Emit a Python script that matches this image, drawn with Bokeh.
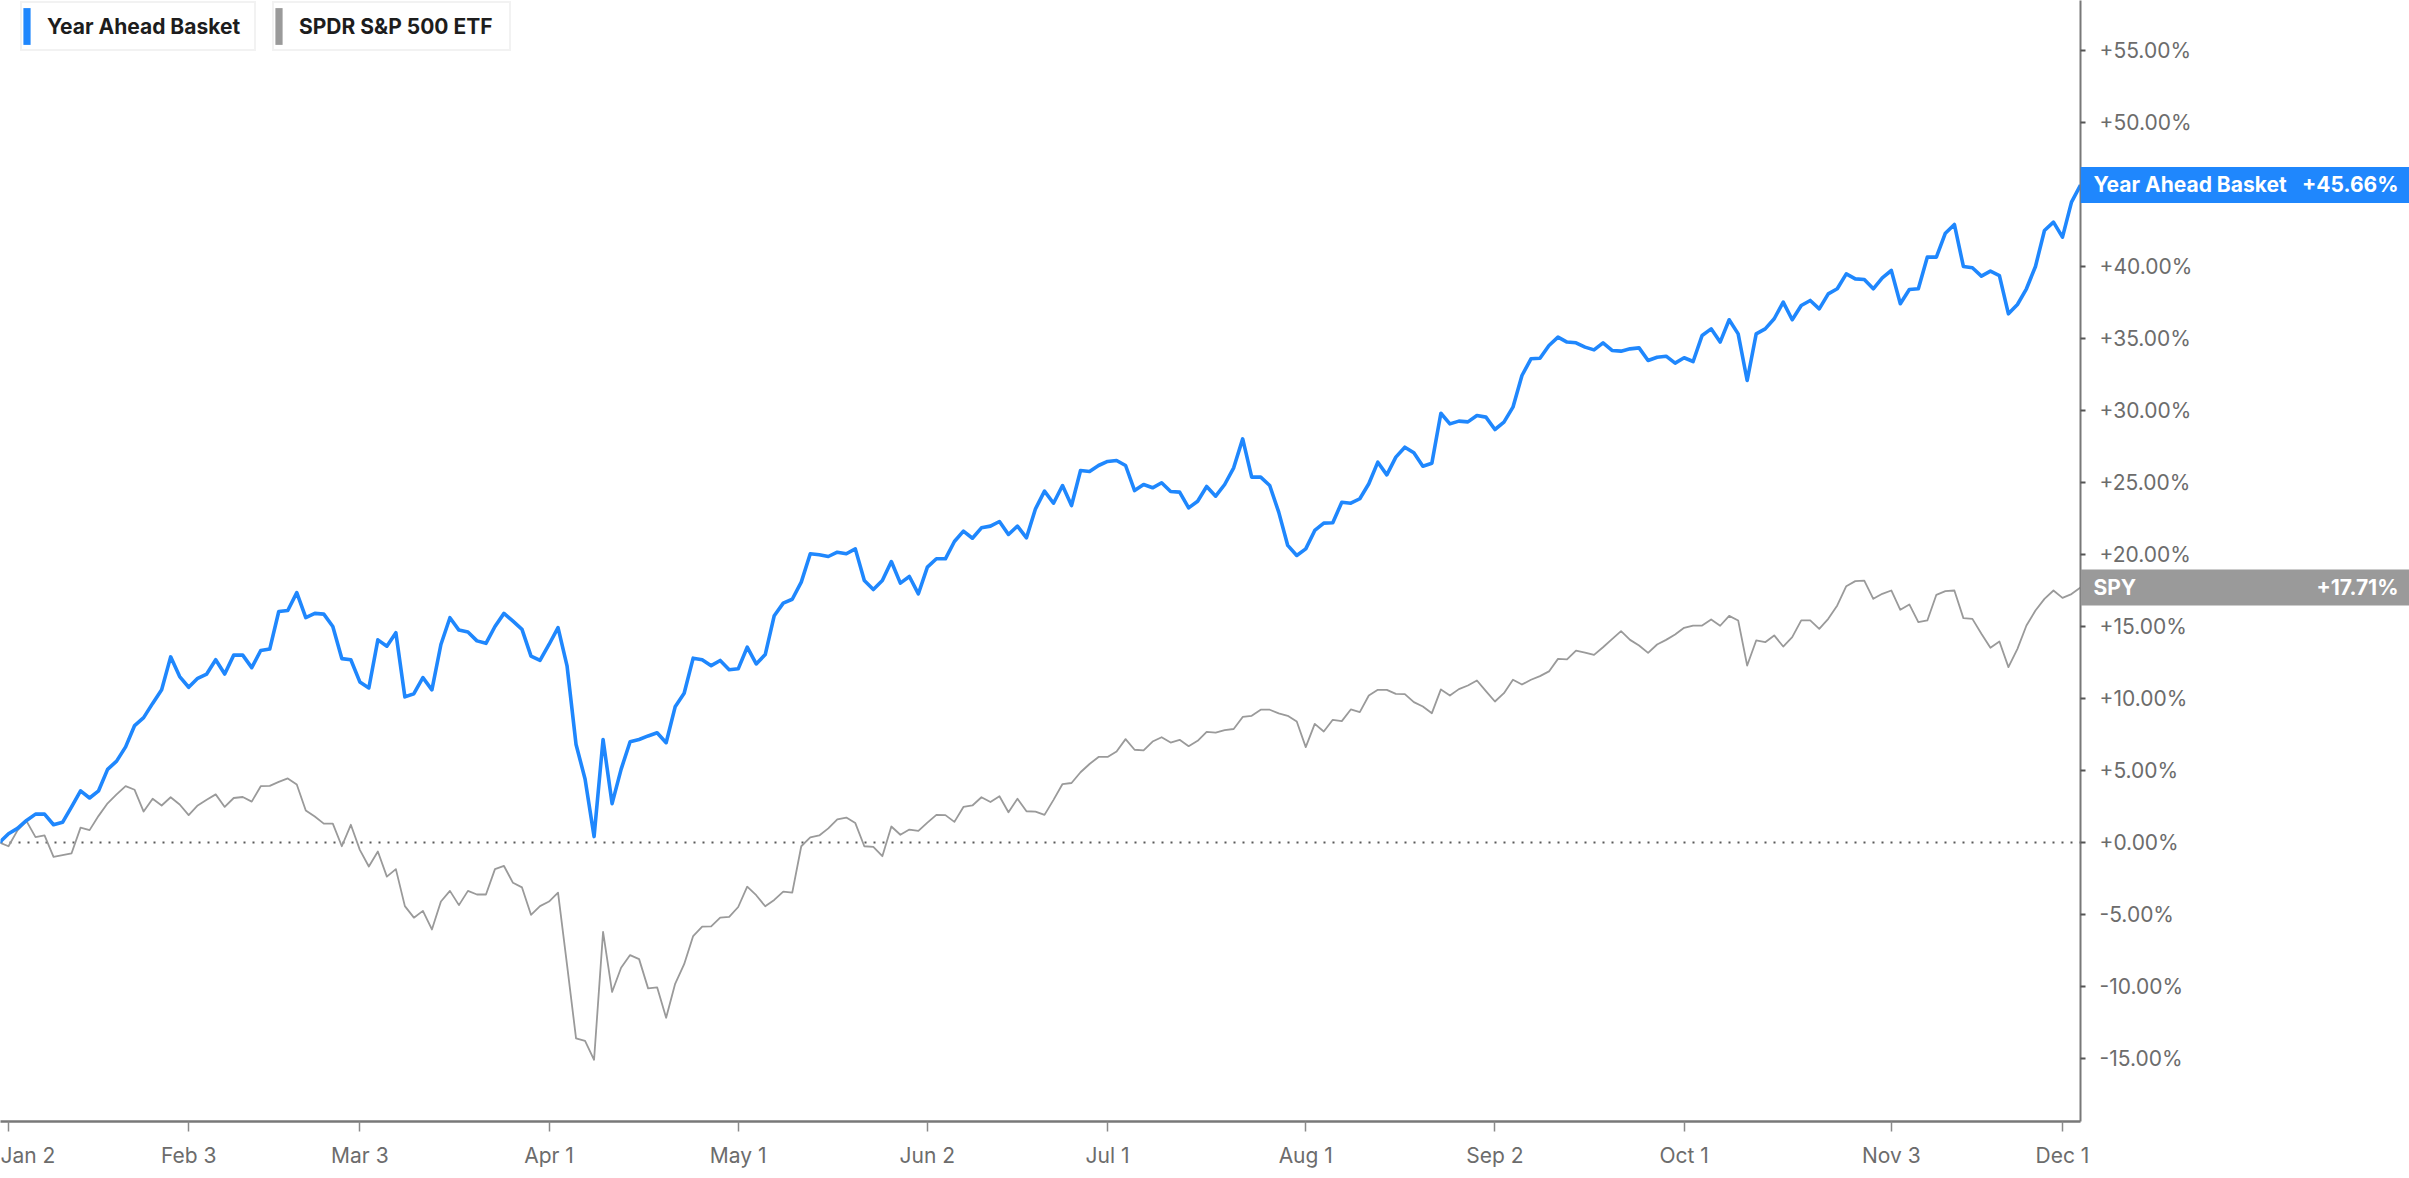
from bokeh.plotting import figure
from bokeh.layouts import row
from bokeh.models import (Range1d, FixedTicker, CustomJSTickFormatter, Span,
                          Legend, LegendItem)
from bokeh.core.properties import value
from bokeh.embed import file_html
from bokeh.resources import INLINE

# ---------------- data ----------------
basket_name = "Year Ahead Basket"
spy_name = "SPDR S&P 500 ETF"
spy_short = "SPY"

# trading-day index (Dec 31 2024 = -1 base, Jan 2 2025 = 0 ... Dec 3 = 230)
day_index = list(range(-1, 231))

basket = [
    0.0,
    0.61, 0.98, 1.53, 1.97, 1.97, 1.23, 1.40, 2.47, 3.59, 3.09,
    3.59, 5.08, 5.65, 6.64, 8.12, 8.67, 9.66, 10.60, 12.89, 11.52,
    10.78, 11.40, 11.70, 12.69, 11.70, 13.01, 13.01, 12.14, 13.33, 13.43,
    16.04, 16.11, 17.35, 15.62, 15.91, 15.86, 15.00, 12.77, 12.69, 11.15,
    10.73, 14.07, 13.63, 14.57, 10.11, 10.33, 11.45, 10.60, 13.75, 15.61,
    14.75, 14.62, 14.00, 13.83, 15.00, 15.91, 15.37, 14.80, 12.94, 12.64,
    13.75, 14.92, 12.27, 6.81, 4.41, 0.41, 7.15, 2.70, 5.08, 7.00,
    7.15, 7.40, 7.62, 6.93, 9.42, 10.36, 12.80, 12.69, 12.28, 12.64,
    12.00, 12.06, 13.56, 12.40, 13.05, 15.75, 16.62, 16.89, 18.08, 20.05,
    19.98, 19.86, 20.16, 20.05, 20.39, 18.19, 17.57, 18.19, 19.51, 18.01,
    18.47, 17.27, 19.12, 19.70, 19.70, 20.90, 21.62, 21.13, 21.85, 21.97,
    22.29, 21.39, 21.97, 21.16, 23.17, 24.40, 23.56, 24.79, 23.40, 25.83,
    25.76, 26.18, 26.46, 26.53, 26.18, 24.44, 24.86, 24.63, 24.98, 24.37,
    24.33, 23.24, 23.70, 24.72, 24.05, 24.86, 26.02, 28.03, 25.37, 25.37,
    24.79, 22.94, 20.63, 19.93, 20.39, 21.67, 22.18, 22.20, 23.63, 23.56,
    23.87, 24.91, 26.41, 25.53, 26.76, 27.45, 27.06, 26.13, 26.34, 29.81,
    29.07, 29.26, 29.21, 29.65, 29.54, 28.68, 29.19, 30.23, 32.43, 33.59,
    33.63, 34.51, 35.09, 34.75, 34.70, 34.40, 34.21, 34.70, 34.17, 34.12,
    34.28, 34.35, 33.47, 33.70, 33.77, 33.29, 33.66, 33.40, 35.21, 35.67,
    34.75, 36.30, 35.32, 32.08, 35.32, 35.67, 36.37, 37.52, 36.30, 37.29,
    37.64, 37.06, 38.10, 38.45, 39.49, 39.14, 39.10, 38.45, 39.21, 39.72,
    37.41, 38.40, 38.45, 40.65, 40.65, 42.31, 42.92, 40.00, 39.91, 39.33,
    39.68, 39.37, 36.71, 37.36, 38.45, 40.00, 42.50, 43.08, 42.04, 44.47,
    45.66,
]

spy = [
    0.0,
    -0.26, 0.84, 1.48, 0.37, 0.49, -1.00, -0.88, -0.75, 1.03, 0.86,
    1.85, 2.72, 3.34, 3.91, 3.66, 2.15, 3.04, 2.57, 3.14, 2.64,
    1.90, 2.57, 2.97, 3.34, 2.47, 3.09, 3.16, 2.84, 3.91, 3.93,
    4.21, 4.45, 4.03, 2.22, 1.80, 1.31, 1.31, -0.26, 1.23, -0.51,
    -1.67, -0.63, -2.37, -1.85, -4.42, -5.22, -4.75, -6.04, -4.10, -3.36,
    -4.35, -3.36, -3.61, -3.61, -1.85, -1.63, -2.80, -3.12, -5.02, -4.42,
    -4.10, -3.48, -8.50, -13.60, -13.78, -15.09, -6.21, -10.38, -8.70, -7.82,
    -8.10, -10.13, -10.06, -12.17, -9.81, -8.45, -6.50, -5.84, -5.82, -5.22,
    -5.17, -4.48, -3.07, -3.66, -4.43, -3.99, -3.41, -3.48, -0.26, 0.36,
    0.49, 0.98, 1.60, 1.73, 1.35, -0.26, -0.31, -0.95, 1.11, 0.54,
    0.90, 0.81, 1.38, 1.92, 1.90, 1.43, 2.47, 2.57, 3.14, 2.81,
    3.21, 2.10, 3.04, 2.17, 2.15, 1.92, 2.96, 4.06, 4.13, 4.88,
    5.45, 5.94, 5.94, 6.32, 7.18, 6.44, 6.39, 7.01, 7.31, 6.94,
    7.13, 6.69, 7.06, 7.68, 7.63, 7.80, 7.88, 8.72, 8.80, 9.22,
    9.22, 8.97, 8.80, 8.40, 6.62, 8.24, 7.71, 8.52, 8.43, 9.24,
    9.05, 10.21, 10.60, 10.60, 10.32, 10.30, 9.75, 9.44, 8.98, 10.63,
    10.21, 10.65, 10.90, 11.25, 10.51, 9.79, 10.37, 11.30, 10.97, 11.30,
    11.55, 11.88, 12.75, 12.71, 13.33, 13.19, 13.03, 13.56, 14.12, 14.68,
    14.07, 13.68, 13.17, 13.75, 14.07, 14.44, 14.91, 15.06, 15.07, 15.49,
    15.05, 15.74, 15.42, 12.29, 14.03, 13.91, 14.38, 13.61, 14.26, 15.42,
    15.42, 14.84, 15.53, 16.46, 17.80, 18.15, 18.19, 16.92, 17.27, 17.50,
    16.16, 16.53, 15.30, 15.42, 17.20, 17.45, 17.50, 15.58, 15.53, 14.49,
    13.52, 13.96, 12.18, 13.45, 15.07, 16.11, 16.92, 17.50, 16.99, 17.25,
    17.71,
]

x_tick_positions = [0, 20, 39, 60, 81, 102, 122, 144, 165, 186, 209, 228]
x_tick_labels = ["Jan 2", "Feb 3", "Mar 3", "Apr 1", "May 1", "Jun 2", "Jul 1",
                 "Aug 1", "Sep 2", "Oct 1", "Nov 3", "Dec 1"]
y_ticks = [-15, -10, -5, 0, 5, 10, 15, 20, 25, 30, 35, 40, 50, 55]

# ---------------- style ----------------
BLUE = "#1f87fd"
GRAY = "#9a9a9a"
AXIS = "#787878"
TXT = "#6c6c6c"
FONT = "Inter"
NAN = float("nan")

FRAME_W, FRAME_H = 2080, 1121
TAG_W, BOTTOM = 329, 57

y_range = Range1d(-19.375, 58.47)

p = figure(frame_width=FRAME_W, frame_height=FRAME_H,
           x_range=Range1d(-0.888, 230), y_range=y_range,
           y_axis_location="right", output_backend="svg", toolbar_location=None,
           min_border_left=0, min_border_top=0, min_border_right=TAG_W,
           min_border_bottom=BOTTOM)
p.outline_line_color = None
p.grid.visible = False
p.background_fill_color = "white"
p.border_fill_color = "white"

# zero line
p.add_layout(Span(location=0, dimension="width", line_color="#5a5a5a",
                  line_width=2, line_dash="2 7", level="underlay"))

p.line(day_index, spy, line_color=GRAY, line_width=1.8, line_join="round")
p.line(day_index, basket, line_color=BLUE, line_width=3.6, line_join="round")

# y axis (right)
ya = p.yaxis[0]
ya.ticker = FixedTicker(ticks=y_ticks)
ya.formatter = CustomJSTickFormatter(
    code='return (tick >= 0 ? "+" : "") + tick.toFixed(2) + "%";')
ya.axis_line_color = AXIS
ya.axis_line_width = 2
ya.major_tick_in = 0
ya.major_tick_out = 5
ya.major_tick_line_color = "#555555"
ya.major_tick_line_width = 2
ya.minor_tick_line_color = None
ya.major_label_standoff = 14
ya.major_label_text_font = FONT
ya.major_label_text_font_size = "21px"
ya.major_label_text_color = TXT

# x axis
xa = p.xaxis[0]
xa.ticker = FixedTicker(ticks=x_tick_positions)
xa.major_label_overrides = {pos: lab for pos, lab in zip(x_tick_positions, x_tick_labels)}
xa.axis_line_color = AXIS
xa.axis_line_width = 2.5
xa.major_tick_in = 0
xa.major_tick_out = 10
xa.major_tick_line_color = "#8a8a8a"
xa.major_tick_line_width = 1.5
xa.minor_tick_line_color = None
xa.major_label_standoff = 11
xa.major_label_text_font = FONT
xa.major_label_text_font_size = "21px"
xa.major_label_text_color = TXT

# legend chips (proxy renderers only carry the colour for the chip bar)
r_leg1 = p.quad(left=[NAN], right=[NAN], top=[NAN], bottom=[NAN],
                fill_color=BLUE, line_color=None)
r_leg2 = p.quad(left=[NAN], right=[NAN], top=[NAN], bottom=[NAN],
                fill_color=GRAY, line_color=None)
for r, name, vx, lw in [(r_leg1, basket_name, 20, 207), (r_leg2, spy_name, 272, 210)]:
    lg = Legend(items=[LegendItem(label=name, renderers=[r])], location=(vx, 1070),
                orientation="horizontal", padding=0, spacing=0, margin=0,
                glyph_width=9, glyph_height=46, label_standoff=16,
                label_width=lw, label_height=46,
                border_line_color="#e6e6e6", border_line_width=2,
                background_fill_color="white", background_fill_alpha=1,
                label_text_font=FONT, label_text_font_size="21px",
                label_text_font_style="bold", label_text_color="#1d1d1d")
    p.add_layout(lg)

# ---------- overlay strip for the last-value tags (sits over the right axis) ----------
t = figure(frame_width=TAG_W, frame_height=FRAME_H, x_range=Range1d(0, 1),
           y_range=y_range, x_axis_location=None, y_axis_location=None,
           output_backend="svg", toolbar_location=None,
           min_border_left=0, min_border_top=0, min_border_right=0,
           min_border_bottom=BOTTOM, styles={"margin-left": f"-{TAG_W}px"})
t.outline_line_color = None
t.grid.visible = False
t.background_fill_alpha = 0
t.border_fill_alpha = 0

tag_names = [basket_name, spy_short]
tag_vals = [basket[-1], spy[-1]]
tag_cols = [BLUE, GRAY]
tag_txt = [f"{v:+.2f}%" for v in tag_vals]
t.hbar(y=tag_vals, left=0, right=1, height=2.5, fill_color=tag_cols, line_color=None)
t.text(x=[0, 0], y=tag_vals, text=tag_names, x_offset=13, text_baseline="middle",
       text_align="left", text_color="white", text_font=value(FONT),
       text_font_size="21px", text_font_style="bold")
t.text(x=[1, 1], y=tag_vals, text=tag_txt, x_offset=-11, text_baseline="middle",
       text_align="right", text_color="white", text_font=value(FONT),
       text_font_size="21px", text_font_style="bold")

layout = row(p, t, spacing=0)
open("out.html", "w").write(file_html(layout, INLINE))
